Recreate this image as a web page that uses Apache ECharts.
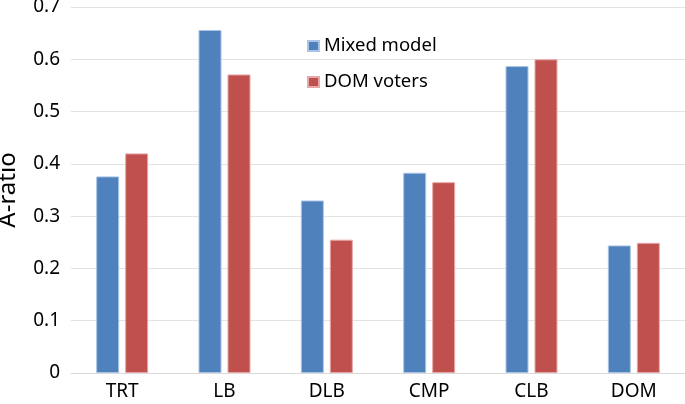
<!DOCTYPE html>
<html>
<head>
<meta charset="utf-8">
<script src="https://cdn.jsdelivr.net/npm/echarts@6/dist/echarts.min.js"></script>
<style>
  html, body { margin: 0; padding: 0; background: #fff; }
  #main { width: 685px; height: 404px; }
</style>
</head>
<body>
<div id="main"></div>
<script>
// 类别
var categories = ['TRT', 'LB', 'DLB', 'CMP', 'CLB', 'DOM'];
// 两组数据
var mixedModel = [0.376, 0.656, 0.330, 0.383, 0.587, 0.244];
var domVoters = [0.420, 0.571, 0.255, 0.365, 0.600, 0.249];
var yTicks = [0, 0.1, 0.2, 0.3, 0.4, 0.5, 0.6, 0.7];

var myChart = echarts.init(document.getElementById('main'));
var font = '"Noto Sans", sans-serif';

var option = {
  animation: false,
  textStyle: { fontFamily: font },
  grid: { left: 71, right: 0, top: 7, bottom: 31, containLabel: false, outerBoundsMode: 'none' },
  legend: {
    orient: 'vertical',
    left: 307,
    top: 35,
    padding: 0,
    itemWidth: 11,
    itemHeight: 10,
    itemGap: 14,
    icon: 'rect',
    textStyle: { fontSize: 18.5, color: '#000', lineHeight: 22, fontFamily: font },
    data: ['Mixed model', 'DOM voters']
  },
  xAxis: {
    type: 'category',
    data: categories,
    axisTick: { show: false },
    axisLine: { lineStyle: { color: '#d9d9d9', width: 1 } },
    axisLabel: { color: '#000', fontSize: 19, margin: 9, fontFamily: font }
  },
  yAxis: {
    type: 'value',
    min: 0,
    max: 0.7,
    interval: 0.1,
    name: 'A-ratio',
    nameLocation: 'middle',
    nameGap: 51,
    nameRotate: 90,
    nameTextStyle: { fontSize: 24, color: '#000', fontFamily: font },
    axisLine: { show: false },
    axisTick: { show: false },
    splitLine: { lineStyle: { color: '#e3e3e3', width: 1 } },
    axisLabel: {
      color: '#000',
      fontSize: 19,
      lineHeight: 19,
      margin: 11,
      fontFamily: font,
      formatter: function (v) {
        var i = yTicks.indexOf(Math.round(v * 10) / 10);
        return i >= 0 ? String(yTicks[i]) : '';
      }
    }
  },
  series: [
    {
      name: 'Mixed model',
      type: 'bar',
      data: mixedModel,
      barWidth: 23,
      barGap: '26%',
      itemStyle: { color: '#4f81bd', borderColor: '#a9c4e6', borderWidth: 1 }
    },
    {
      name: 'DOM voters',
      type: 'bar',
      data: domVoters,
      barWidth: 23,
      barGap: '26%',
      itemStyle: { color: '#c0504d', borderColor: '#e6a9a8', borderWidth: 1 }
    }
  ]
};

myChart.setOption(option);
</script>
</body>
</html>
